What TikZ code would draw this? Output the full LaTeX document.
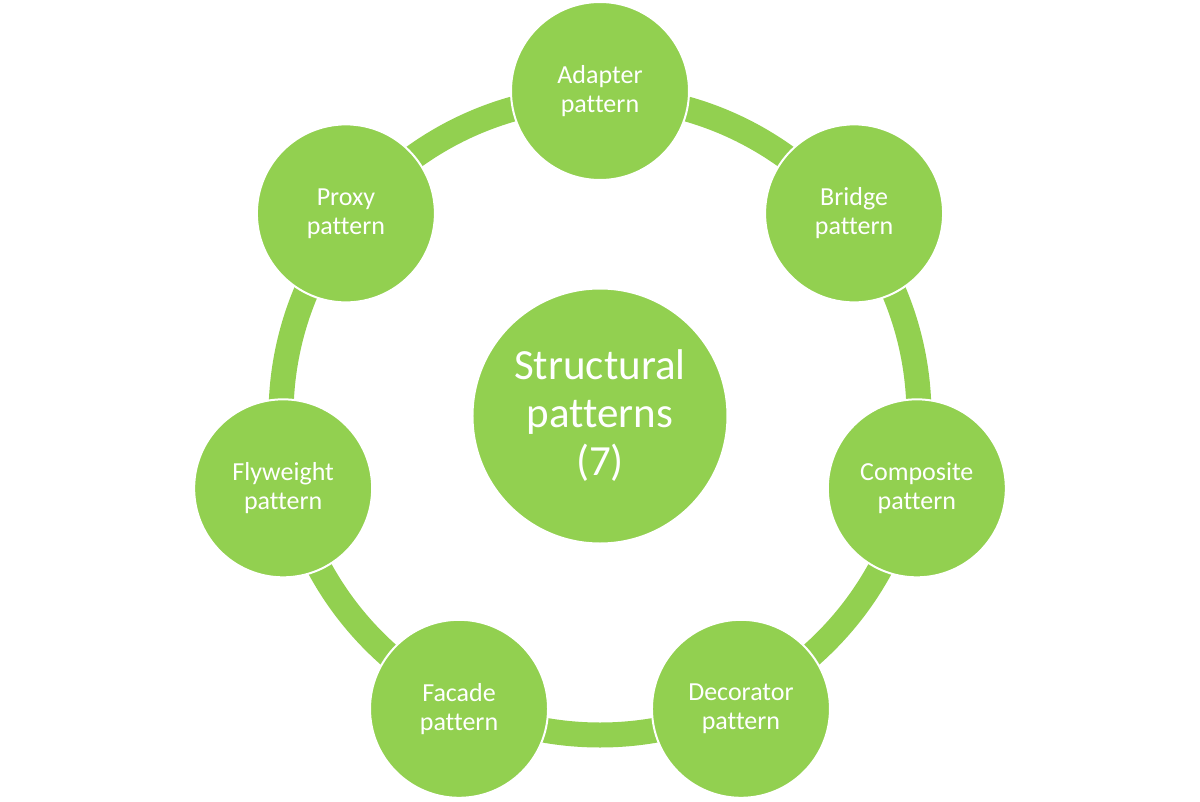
\documentclass[tikz,border=0pt]{standalone}
\usepackage{fontspec}
\setmainfont[Ligatures={NoCommon}]{Carlito}
\usepackage{tikz}
\usetikzlibrary{positioning}
\definecolor{leafgreen}{HTML}{92D050}
\tikzset{
	every node/.style={
		align=center,
	},
	pattern node/.style={circle, minimum size=178pt, inner sep=0pt, fill=leafgreen, draw=white, line width=2pt, text=white, font=\fontsize{26}{29}\selectfont},
	hub node/.style={circle, minimum size=255pt, inner sep=0pt, fill=leafgreen, draw=white, line width=2pt, text=white, font=\fontsize{43}{48}\selectfont},
}

\begin{document}
\begin{tikzpicture}
    \useasboundingbox (-600pt,-385pt) rectangle (600pt,416pt);

    % ring behind the circles
    \draw[line width=25pt, leafgreen] (0,0) circle (319pt);

    \node[hub node] (structural) at (0,0) {Structural\\patterns\\(7)};

    \node[pattern node] (adapter) at (90:325pt) {Adapter\\pattern};
    \node[pattern node] (bridge) at (38.57:325pt) {Bridge\\pattern};
    \node[pattern node] (composite) at (-12.86:325pt) {Composite\\pattern};
    \node[pattern node] (decorator) at (-64.29:325pt) {Decorator\\pattern};
    \node[pattern node] (facade) at (-115.71:325pt) {Facade\\pattern};
    \node[pattern node] (flyweight) at (-167.14:325pt) {Flyweight\\pattern};
    \node[pattern node] (proxy) at (141.43:325pt) {Proxy\\pattern};

\end{tikzpicture}
\end{document}
